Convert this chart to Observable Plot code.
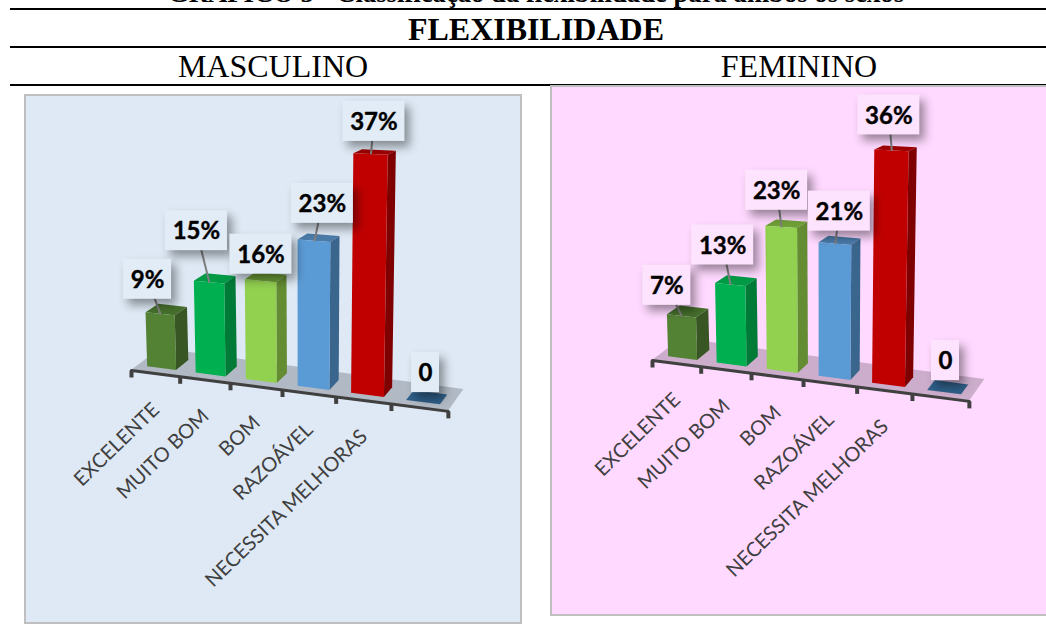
<!DOCTYPE html>
<html lang="pt">
<head>
<meta charset="utf-8">
<script src="https://cdn.jsdelivr.net/npm/d3@7"></script>
<script src="https://cdn.jsdelivr.net/npm/@observablehq/plot@0.6"></script>
<style>
  html, body { margin: 0; padding: 0; background: #fff; overflow: hidden; }
  body { position: relative; width: 1046px; height: 625px; font-family: "Liberation Serif", serif; color: #000; }
  .head { position: absolute; white-space: nowrap; transform: translateX(-50%); line-height: 1; }
  .rule { position: absolute; left: 10px; right: 0; height: 2px; background: #000; }
  .panel { position: absolute; }
  .panel svg { display: block; max-width: none; }
</style>
</head>
<body>
<div class="head" style="left:536px;top:-20px;font-size:26.7px;font-weight:bold">GRÁFICO 5 - Classificação da flexibilidade para ambos os sexos</div>
<div class="rule" style="top:8px"></div>
<div class="head" style="left:536px;top:13px;font-size:32px;font-weight:bold">FLEXIBILIDADE</div>
<div class="rule" style="top:46px"></div>
<div class="head" style="left:273px;top:50px;font-size:32px">MASCULINO</div>
<div class="head" style="left:799px;top:50px;font-size:32px">FEMININO</div>
<div class="rule" style="top:84px"></div>
<div id="masculino" class="panel" style="left:24px;top:94px"></div>
<div id="feminino" class="panel" style="left:550px;top:85px"></div>

<script>
// Fitness classes and the share of each sex in them
const categories = ["EXCELENTE", "MUITO BOM", "BOM", "RAZOÁVEL", "NECESSITA MELHORAS"];
const masculino = [9, 15, 16, 23, 37, 0];
const feminino = [7, 13, 23, 21, 36, 0];
const labelsMasculino = ["9%", "15%", "16%", "23%", "37%", "0"];
const labelsFeminino = ["7%", "13%", "23%", "21%", "36%", "0"];

// Face colours per bar: front, side, top
const frontColors = ["#548235", "#00B050", "#92D050", "#5B9BD5", "#C00000", "#2F5F88"];
const sideColors = ["#375623", "#007A37", "#638C33", "#3A658C", "#7F0000", "#2F5F88"];
const topColors = ["#466F2C", "#009A45", "#6F9F37", "#4A7BA8", "#A00000", "#2F5F88"];

// Where each value callout sits relative to its bar, in pixels, and whether it has a leader
const calloutsMasculino = [[-13, -35, 1], [-13, -52, 1], [0, -27, 0], [8, -38, 1], [3, -33, 1], [2, -30, 0]];
const calloutsFeminino = [[-15, -31, 1], [-8, -40, 1], [-5, -37, 1], [4, -33, 1], [-3, -36, 1], [1, -32, 0]];

const calloutWidths = {1: 28, 2: 48, 3: 62};
const slotPx = 317 / 6;   // pixels per category slot along the axis
const pctPx = 6.05;       // pixels per percentage point at the front-left corner
const axisSlope = 0.129;  // the floor's front edge falls to the right
const barFront = 0.23, barBack = 0.68;

// Perspective view: slot position i, depth d (0 front to 1 back) and value v
// become a position in slot units and percentage points.
function project(i, d, v) {
  const X = i * (0.906 + 0.0156 * i);
  const lean = 0.0625 * (X - 3.1) * v / slotPx;
  const depthX = d * (29 - 2.25 * i) / slotPx;
  const drop = X * slotPx * axisSlope / pctPx;
  const depthY = d * 22 * (1 - 0.6 * v / 37) / pctPx;
  return {x: X + depthX + lean, y: v * (1 + 0.02 * i) - drop + depthY};
}

// A four-cornered face as two rows of an area mark
function face(id, fill, a, b, c, d) {
  return [
    {id, fill, x1: a.x, y1: a.y, x2: d.x, y2: d.y},
    {id, fill, x1: b.x, y1: b.y, x2: c.x, y2: c.y}
  ];
}

function drawPanel({target, values, labels, callouts, width, height, originX, originY, background, boxFill}) {
  const slots = d3.range(values.length);
  const bars = slots.flatMap((i) => {
    const v = values[i], l = i + 0.2, r = i + 0.8;
    return [
      ...face(`t${i}`, topColors[i], project(l, barFront, v), project(r, barFront, v), project(r, barBack, v), project(l, barBack, v)),
      ...face(`s${i}`, sideColors[i], project(r, barFront, 0), project(r, barBack, 0), project(r, barBack, v), project(r, barFront, v)),
      ...face(`f${i}`, frontColors[i], project(l, barFront, 0), project(r, barFront, 0), project(r, barFront, v), project(l, barFront, v))
    ];
  });
  const floor = face("floor", "#000", project(0, 0, 0), project(6, 0, 0), project(6, 1, 0), project(0, 1, 0));
  const edge = d3.range(0, 7).map((i) => project(i, 0, 0));
  const ticks = edge.map((p) => ({x: p.x, y1: p.y, y2: p.y - 7 / pctPx}));
  const catLabels = categories.map((name, i) => {
    const p = project(i + 0.5, 0, 0);
    return {name, x: p.x + 0.5 / slotPx, y: p.y - 33 / pctPx};
  });
  const notes = slots.map((i) => {
    const anchor = project(i + 0.5, barFront, values[i]);
    const [dx, dy, leader] = callouts[i];
    const x = anchor.x + dx / slotPx, y = anchor.y - dy / pctPx;
    const hw = calloutWidths[labels[i].length] / 2 / slotPx, hh = 20 / pctPx;
    return {text: labels[i], ax: anchor.x, ay: anchor.y, x, y, leader, x1: x - hw, x2: x + hw, y1: y - hh, y2: y + hh};
  });

  const chart = Plot.plot({
    width, height,
    margin: 0,
    style: {background, outline: "2px solid #bfbfbf", outlineOffset: "-2px"},
    x: {axis: null, domain: [0, 6], range: [originX, originX + 6 * slotPx]},
    y: {axis: null, domain: [0, 37], range: [originY, originY - 37 * pctPx]},
    marks: [
      Plot.area(floor, {x1: "x1", y1: "y1", x2: "x2", y2: "y2", z: "id", fill: "#000", fillOpacity: 0.2}),
      Plot.line(edge, {x: "x", y: "y", stroke: "#404040", strokeWidth: 3}),
      Plot.link(ticks, {x1: "x", x2: "x", y1: "y1", y2: "y2", stroke: "#404040", strokeWidth: 4}),
      Plot.area(bars, {x1: "x1", y1: "y1", x2: "x2", y2: "y2", z: "id", fill: "fill"}),
      Plot.link(notes.filter((d) => d.leader), {x1: "x", y1: "y", x2: "ax", y2: "ay", stroke: "#7f7f7f", strokeWidth: 2}),
      Plot.rect(notes, {x1: "x1", x2: "x2", y1: "y1", y2: "y2", fill: boxFill, imageFilter: "drop-shadow(5px 6px 5px rgba(0,0,0,0.4))"}),
      Plot.text(notes, {x: "x", y: "y", dy: 1, text: "text", fontFamily: "Lato", fontWeight: "bold", fontSize: 24, fill: "#000", stroke: "#000", strokeWidth: 0.4}),
      Plot.text(catLabels, {x: "x", y: "y", text: "name", rotate: -44, textAnchor: "end", fontFamily: "Lato", fontSize: 20, fill: "#404040"})
    ]
  });
  document.getElementById(target).append(chart);
}

drawPanel({
  target: "masculino", values: masculino, labels: labelsMasculino, callouts: calloutsMasculino,
  width: 498, height: 530, originX: 107, originY: 276, background: "#DEE9F5", boxFill: "#E2ECF6"
});
drawPanel({
  target: "feminino", values: feminino, labels: labelsFeminino, callouts: calloutsFeminino,
  width: 498, height: 531, originX: 102, originY: 275, background: "#FFD9FF", boxFill: "#FDE3FD"
});
</script>
</body>
</html>
